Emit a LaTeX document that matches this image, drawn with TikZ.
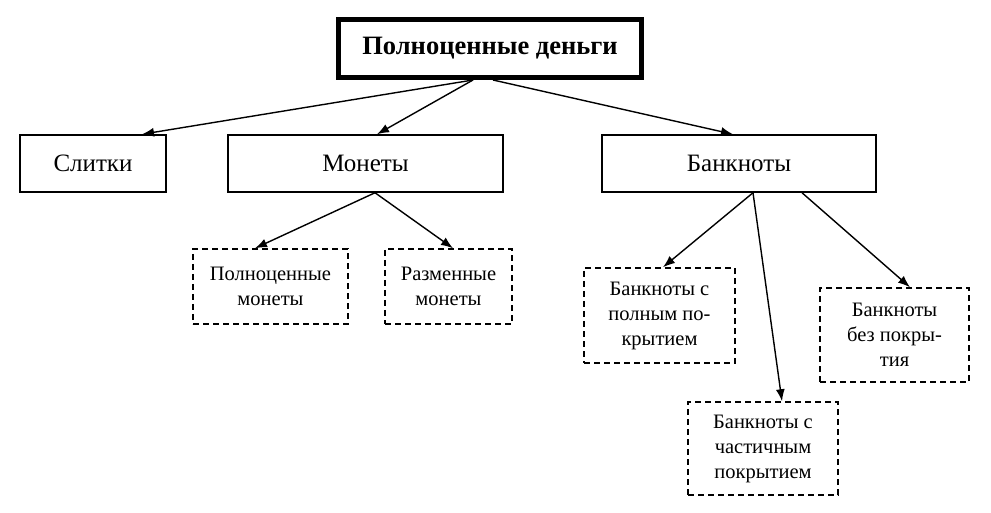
\documentclass[tikz,border=0pt]{standalone}
\usepackage{fontspec}
\setmainfont{Liberation Serif}
\usetikzlibrary{arrows.meta}
\begin{document}
\begin{tikzpicture}[x=1pt,y=-1pt,
  solidbox/.style={draw, line width=1.5pt, rectangle, inner sep=0pt, align=center, font=\fontsize{25}{30}\selectfont},
  dashbox/.style={draw, line width=1.5pt, dash pattern=on 6pt off 4pt, rectangle, inner sep=0pt, align=center, font=\fontsize{20.5}{25}\selectfont},
  topbox/.style={draw, line width=5pt, rectangle, inner sep=0pt, align=center, font=\fontsize{26.5}{30}\selectfont\bfseries},
  arr/.style={line width=1.4pt, -{Latex[length=12pt,width=9pt]}}]
\useasboundingbox (0,0) rectangle (991,513);
\node[topbox, minimum width=303pt, minimum height=58pt] (top) at (490,48.5) {Полноценные деньги};
\node[solidbox, minimum width=146pt, minimum height=57pt] (slitki) at (93,163.5) {Слитки};
\node[solidbox, minimum width=275pt, minimum height=57pt] (monety) at (365.5,163.5) {Монеты};
\node[solidbox, minimum width=274pt, minimum height=57pt] (banknoty) at (739,163.5) {Банкноты};
\node[dashbox, minimum width=155pt, minimum height=75pt] (polmon) at (270.5,286.5) {Полноценные\\монеты};
\node[dashbox, minimum width=127pt, minimum height=75pt] (razmon) at (448.5,286.5) {Разменные\\монеты};
\node[dashbox, minimum width=151pt, minimum height=95pt] (bpol) at (659.5,315.5) {Банкноты с\\полным по-\\крытием};
\node[dashbox, minimum width=149pt, minimum height=94pt] (bbez) at (894.5,335) {Банкноты\\без покры-\\тия};
\node[dashbox, minimum width=150pt, minimum height=93pt] (bchast) at (763,448.5) {Банкноты с\\частичным\\покрытием};
\draw[arr] ([xshift=-17pt]top.south) -- ([xshift=49pt]slitki.north);
\draw[arr] ([xshift=-17pt]top.south) -- ([xshift=11.5pt]monety.north);
\draw[arr] ([xshift=3pt]top.south) -- ([xshift=-6pt]banknoty.north);
\draw[arr] ([xshift=9.5pt]monety.south) -- ([xshift=-15.5pt]polmon.north);
\draw[arr] ([xshift=9.5pt]monety.south) -- ([xshift=4.5pt]razmon.north);
\draw[arr] ([xshift=14pt]banknoty.south) -- ([xshift=3.5pt]bpol.north);
\draw[arr] ([xshift=14pt]banknoty.south) -- ([xshift=19pt]bchast.north);
\draw[arr] ([xshift=63pt]banknoty.south) -- ([xshift=15.5pt]bbez.north);
\end{tikzpicture}
\end{document}
